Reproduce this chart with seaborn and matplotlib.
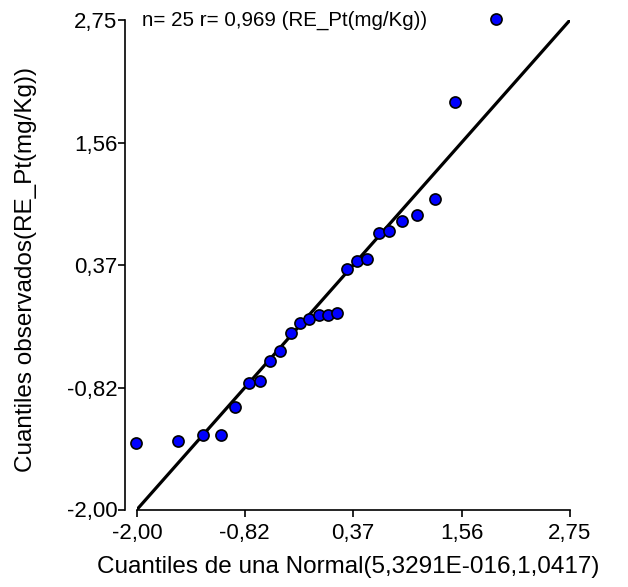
import matplotlib
matplotlib.use("Agg")
import matplotlib.pyplot as plt
import seaborn as sns
import pandas as pd

# Data
theoretical_q = [-2.011, -1.547, -1.279, -1.082, -0.928, -0.775, -0.647, -0.538,
                 -0.428, -0.314, -0.209, -0.113, -0.007, 0.099, 0.194, 0.300,
                 0.410, 0.520, 0.651, 0.764, 0.910, 1.068, 1.266, 1.488, 1.938]
observed_q = [-1.355, -1.335, -1.277, -1.277, -1.008, -0.773, -0.753, -0.562,
              -0.465, -0.284, -0.193, -0.149, -0.110, -0.113, -0.093, 0.337,
              0.414, 0.431, 0.686, 0.702, 0.802, 0.861, 1.016, 1.951, 2.763]
ref_line_x = [-2.00, 2.75]
ref_slope = 1.0
ref_intercept = 0.0
tick_values = [-2.00, -0.82, 0.37, 1.56, 2.75]
tick_labels = ["-2,00", "-0,82", "0,37", "1,56", "2,75"]
annotation = "n= 25 r= 0,969 (RE_Pt(mg/Kg))"
xlabel = "Cuantiles de una Normal(5,3291E-016,1,0417)"
ylabel = "Cuantiles observados(RE_Pt(mg/Kg))"

df = pd.DataFrame({"x": theoretical_q, "y": observed_q})
line_df = pd.DataFrame({"x": ref_line_x,
                        "y": [ref_intercept + ref_slope * v for v in ref_line_x]})

sns.set_theme(style="ticks")
plt.rcParams["font.family"] = ["Liberation Sans", "DejaVu Sans"]

fig = plt.figure(figsize=(6.28, 5.87), dpi=100)
ax = fig.add_axes([137 / 628, 1 - 509.5 / 587, 433 / 628, 489.5 / 587])

sns.lineplot(data=line_df, x="x", y="y", ax=ax, color="black", linewidth=2.3,
             zorder=2)
sns.scatterplot(data=df, x="x", y="y", ax=ax, color="#0000FF", edgecolor="black",
                linewidth=1.2, s=64, zorder=3, clip_on=False)

ax.set_xlim(-2.00, 2.75)
ax.set_ylim(-2.00, 2.75)
ax.set_xticks(tick_values)
ax.set_xticklabels(tick_labels)
ax.set_yticks(tick_values)
ax.set_yticklabels(tick_labels)

sns.despine(ax=ax, offset={"left": 8.6, "bottom": 0})
for side in ["left", "bottom"]:
    ax.spines[side].set_linewidth(1.2)
    ax.spines[side].set_color("black")

ax.tick_params(axis="both", which="major", direction="out", length=5,
               width=1.2, color="black", labelsize=16, labelcolor="black")
ax.tick_params(axis="y", pad=0.5)
ax.tick_params(axis="x", pad=5)

ax.set_xlabel(xlabel, fontsize=17.5, color="black")
ax.set_ylabel(ylabel, fontsize=17.5, color="black")
ax.xaxis.set_label_coords((348 - 137) / 433, (509.5 - 567) / 489.5)
ax.xaxis.label.set_va("center")
ax.yaxis.set_label_coords((26.5 - 137) / 433, (509.5 - 269.5) / 489.5)
ax.yaxis.label.set_va("center")

ax.text((142 - 137) / 433, 1.0, annotation, transform=ax.transAxes,
        ha="left", va="center", fontsize=14.8, color="black", clip_on=False)

ax.set_facecolor("white")
fig.patch.set_facecolor("white")
fig.savefig("out.png", dpi=100, facecolor="white")
